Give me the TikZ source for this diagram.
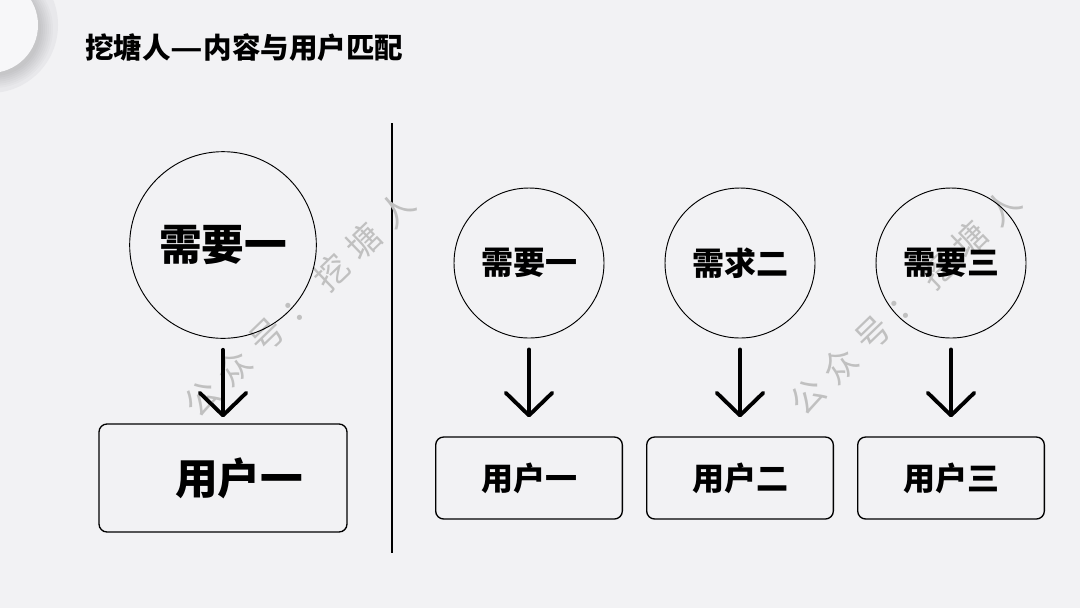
\documentclass[tikz,border=0pt]{standalone}
\usepackage{fontspec}
\usetikzlibrary{arrows.meta}
\newfontfamily\cjk{Noto Sans CJK SC}
\newfontfamily\cjkwm{Noto Sans CJK SC}[LetterSpace=33]

\definecolor{slidebg}{RGB}{242,242,244}
\definecolor{ringgray}{RGB}{232,232,235}
\definecolor{discwhite}{RGB}{247,247,249}
\definecolor{wmgray}{RGB}{192,192,192}

\tikzset{
  needbig/.style={circle,draw,line width=0.7pt,minimum size=140pt,inner sep=0pt,font=\cjk\bfseries\fontsize{32}{36}\selectfont},
  need/.style={circle,draw,line width=0.7pt,minimum size=112.5pt,inner sep=0pt,font=\cjk\bfseries\fontsize{24}{28}\selectfont},
  userbig/.style={draw,line width=1pt,rounded corners=6pt,minimum width=186pt,minimum height=81pt,inner sep=0pt,font=\cjk\bfseries\fontsize{32}{36}\selectfont},
  user/.style={draw,line width=1pt,rounded corners=6pt,minimum width=140pt,minimum height=61.5pt,inner sep=0pt,font=\cjk\bfseries\fontsize{24}{28}\selectfont},
  arr/.style={line width=2.9pt,line cap=round,-{Straight Barb[length=17pt,width=35pt,line cap=round,line join=round]}},
  wmark/.style={rotate=44,text=wmgray,font=\cjkwm\fontsize{25.5}{30}\selectfont}
}

\begin{document}
\begin{tikzpicture}[x=0.75pt,y=0.75pt,yscale=-1,xscale=1]
\useasboundingbox (0,0) rectangle (1080,608);
\fill[slidebg] (0,0) rectangle (1080,608);

%Shape: corner disc with soft shadow
\begin{scope}
\clip (0,0) rectangle (1080,608);
\fill[ringgray] (-10,25) circle (68);
\foreach \r in {47,49,...,59} {
  \fill[black,opacity=0.018] (-6,29) circle (\r);
}
\fill[discwhite] (-10,25) circle (48);
\end{scope}

% Text Node
\node [anchor=west,inner sep=0pt,font=\cjk\bfseries\fontsize{21.4}{25}\selectfont] (title) at (85,47.5) {挖塘人\scalebox{1.25}[1]{—}内容与用户匹配};

%Shape: divider line
\draw [line width=1.1pt] (392,123) -- (392,553);

% Text Node (watermarks, under the shapes)
\node [wmark] (wmarkA) at (299,304) {公众号：挖塘人};
\node [wmark] (wmarkB) at (905,302) {公众号：挖塘人};

%Left group
\node [needbig] (needA) at (223,245) {需要一};
\node [userbig] (userA) at (223,478) {\hspace*{24pt}用户一};
\draw [arr,shorten <=8.25pt,shorten >=4.5pt] (needA) -- (userA);

%Right group
\node [need] (needB) at (529,263) {需要一};
\node [need] (needC) at (740,263) {需求二};
\node [need] (needD) at (951,263) {需要三};
\node [user] (userB) at (529,478) {用户一};
\node [user] (userC) at (740,478) {用户二};
\node [user] (userD) at (951,478) {用户三};
\foreach \n in {B,C,D} {
  \draw [arr,shorten <=8.25pt,shorten >=14.25pt] (need\n) -- (user\n);
}

\end{tikzpicture}
\end{document}
